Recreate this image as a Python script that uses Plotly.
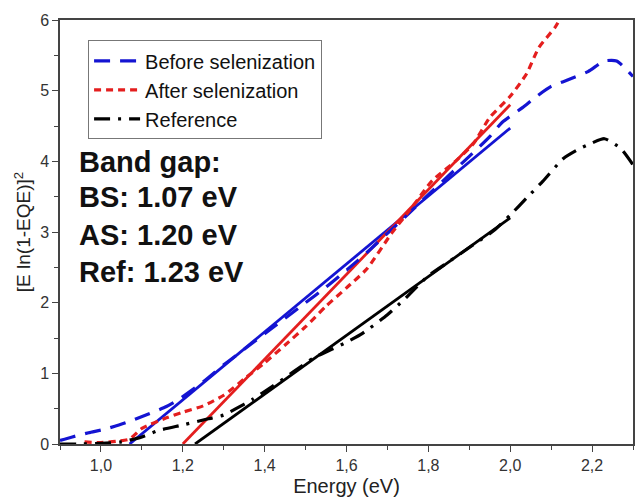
import plotly.graph_objects as go

# Data curves (Energy eV, [E ln(1-EQE)]^2)
bs_E = [0.90, 0.93, 0.97, 1.01, 1.06, 1.11, 1.16, 1.19, 1.25, 1.30, 1.35, 1.40, 1.45, 1.50, 1.55, 1.60, 1.65, 1.70, 1.75, 1.80, 1.85, 1.90, 1.95, 1.98, 2.03, 2.06, 2.10, 2.14, 2.19, 2.23, 2.26, 2.30]
bs_V = [0.05, 0.10, 0.16, 0.21, 0.30, 0.41, 0.53, 0.63, 0.88, 1.12, 1.34, 1.56, 1.78, 2.00, 2.22, 2.46, 2.71, 2.98, 3.25, 3.53, 3.80, 4.07, 4.35, 4.55, 4.76, 4.90, 5.06, 5.15, 5.27, 5.42, 5.42, 5.20]

as_E = [0.96, 1.00, 1.04, 1.07, 1.10, 1.16, 1.20, 1.25, 1.30, 1.35, 1.40, 1.45, 1.50, 1.55, 1.60, 1.65, 1.71, 1.76, 1.81, 1.87, 1.91, 1.95, 2.00, 2.04, 2.07, 2.11, 2.13]
as_V = [0.03, 0.02, 0.04, 0.07, 0.22, 0.37, 0.45, 0.54, 0.69, 0.92, 1.15, 1.40, 1.66, 1.95, 2.21, 2.48, 2.98, 3.35, 3.73, 4.02, 4.25, 4.62, 4.92, 5.24, 5.61, 5.90, 6.10]

ref_E = [0.90, 0.95, 1.00, 1.05, 1.10, 1.14, 1.20, 1.25, 1.30, 1.33, 1.37, 1.42, 1.47, 1.52, 1.56, 1.60, 1.64, 1.70, 1.74, 1.80, 1.85, 1.91, 1.96, 2.00, 2.04, 2.08, 2.13, 2.17, 2.20, 2.23, 2.27, 2.30]
ref_V = [0.00, 0.00, 0.01, 0.03, 0.10, 0.19, 0.27, 0.34, 0.41, 0.50, 0.63, 0.82, 1.02, 1.22, 1.33, 1.44, 1.57, 1.83, 2.04, 2.38, 2.58, 2.82, 3.02, 3.24, 3.48, 3.72, 4.04, 4.18, 4.26, 4.32, 4.18, 3.95]

# Linear fits (x-intercept = band gap)
fit_bs_E = [1.07, 2.00]
fit_bs_V = [0.0, 4.47]
fit_as_E = [1.20, 2.00]
fit_as_V = [0.0, 4.80]
fit_ref_E = [1.23, 2.00]
fit_ref_V = [0.0, 3.20]

names = ["Before selenization", "After selenization", "Reference"]
band_text = ["Band gap:", "BS: 1.07 eV", "AS: 1.20 eV", "Ref: 1.23 eV"]
xticks = [1.0, 1.2, 1.4, 1.6, 1.8, 2.0, 2.2]

BLUE = "#1414d2"
RED = "#e41e1e"
BLACK = "#000000"
FONT = "Liberation Sans, Arial, sans-serif"

fig = go.Figure()
# fits
fig.add_trace(go.Scatter(x=fit_bs_E, y=fit_bs_V, mode="lines", line=dict(color=BLUE, width=2.8), showlegend=False))
fig.add_trace(go.Scatter(x=fit_as_E, y=fit_as_V, mode="lines", line=dict(color=RED, width=2.8), showlegend=False))
fig.add_trace(go.Scatter(x=fit_ref_E, y=fit_ref_V, mode="lines", line=dict(color=BLACK, width=2.8), showlegend=False))
# data
fig.add_trace(go.Scatter(x=bs_E, y=bs_V, mode="lines", name=names[0], line=dict(color=BLUE, width=3.2, dash="16px,10px", shape="spline", smoothing=0.6)))
fig.add_trace(go.Scatter(x=as_E, y=as_V, mode="lines", name=names[1], line=dict(color=RED, width=3.2, dash="7px,5px", shape="spline", smoothing=0.6)))
fig.add_trace(go.Scatter(x=ref_E, y=ref_V, mode="lines", name=names[2], line=dict(color=BLACK, width=3.2, dash="16px,8px,3px,8px", shape="spline", smoothing=0.6)))

ys = [0.6646, 0.5826, 0.4931, 0.4060]
for t, yy in zip(band_text, ys):
    fig.add_annotation(text="<b>%s</b>" % t, xref="paper", yref="paper", x=0.029, y=yy,
                       xanchor="left", yanchor="middle", showarrow=False,
                       font=dict(family=FONT, size=29, color="#111111"))

axis_common = dict(showline=True, linecolor="#444444", linewidth=1.5, mirror=True,
                   ticks="outside", tickcolor="#444444", ticklen=6, tickwidth=1.3,
                   showgrid=False, zeroline=False,
                   tickfont=dict(family=FONT, size=16, color="#333333"))

fig.update_layout(
    width=636, height=502,
    margin=dict(l=60, r=1, t=20, b=58),
    paper_bgcolor="white", plot_bgcolor="white",
    separators=",.",
    font=dict(family=FONT, color="#222222"),
    xaxis=dict(range=[0.9, 2.3], tickvals=xticks, tickformat=".1f",
               minor=dict(ticks="outside", dtick=0.1, tick0=0.9, ticklen=4, tickcolor="#444444"),
               title=dict(text="Energy (eV)", font=dict(family=FONT, size=20, color="#222222"), standoff=6),
               **axis_common),
    yaxis=dict(range=[0, 6], dtick=1,
               minor=dict(ticks="outside", dtick=0.5, ticklen=4, tickcolor="#444444"),
               title=dict(text="[E ln(1-EQE)]<sup>2</sup>", font=dict(family=FONT, size=19, color="#222222"), standoff=4),
               **axis_common),
    legend=dict(x=0.049, y=0.952, xanchor="left", yanchor="top",
                bgcolor="white", bordercolor="#777777", borderwidth=1,
                font=dict(family=FONT, size=20, color="#111111"),
                tracegroupgap=0, itemwidth=46),
)

fig.write_html("out.html")
